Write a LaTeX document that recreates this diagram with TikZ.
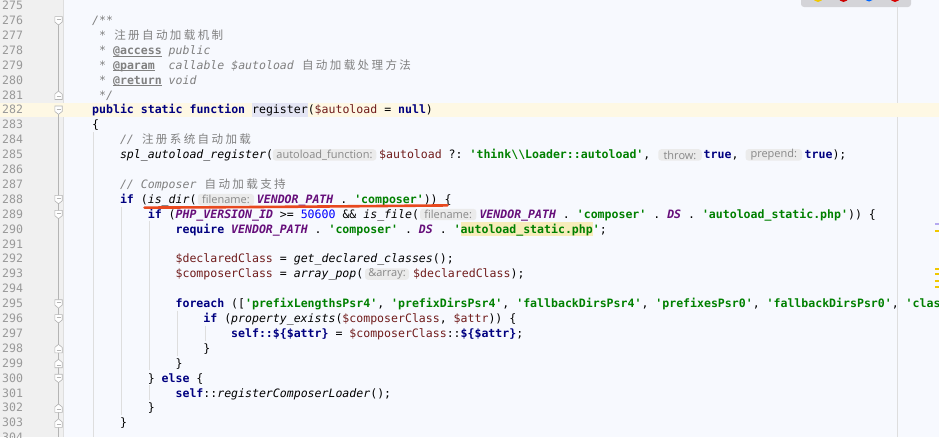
\documentclass[tikz,border=0pt]{standalone}
\usepackage{fontspec}
\setmonofont{DejaVu Sans Mono}
\newfontfamily\zhfamily{Noto Sans CJK SC}
\newfontfamily\hintfamily{Open Sans}
\usepackage{xcolor}
\usepackage{tikz}

\definecolor{codebg}{HTML}{F7F9FE}
\definecolor{gutterbg}{HTML}{F0F0F0}
\definecolor{linebg}{HTML}{FEF8E4}
\definecolor{regbg}{HTML}{E4E5F4}
\definecolor{phpbg}{HTML}{F7ECBA}
\definecolor{kwblue}{HTML}{000080}
\definecolor{strgreen}{HTML}{008000}
\definecolor{varred}{HTML}{701C1C}
\definecolor{constpurple}{HTML}{660E7A}
\definecolor{cmtgray}{HTML}{808080}
\definecolor{numblue}{HTML}{0000FF}
\definecolor{lnumgray}{HTML}{999999}
\definecolor{guidegray}{HTML}{DEDEDE}
\definecolor{foldgray}{HTML}{B4B4B4}
\definecolor{hintbg}{HTML}{EBEBEB}
\definecolor{hintgray}{HTML}{888888}
\definecolor{markred}{HTML}{E8481E}
\definecolor{popgray}{HTML}{D4D4D8}
\definecolor{stripeyellow}{HTML}{F0C800}
\definecolor{stripeviolet}{HTML}{B5AAF0}

\newcommand\codesize{\fontsize{11.55pt}{14pt}\selectfont}
\newcommand\tkw[1]{\textcolor{kwblue}{\bfseries #1}}
\newcommand\tstr[1]{\textcolor{strgreen}{\bfseries #1}}
\newcommand\tvar[1]{\textcolor{varred}{#1}}
\newcommand\tconst[1]{\textcolor{constpurple}{\bfseries\itshape #1}}
\newcommand\tfn[1]{{\itshape #1}}
\newcommand\tnum[1]{\textcolor{numblue}{#1}}
\newcommand\ttag[1]{{\upshape\bfseries\underline{\smash{#1}}}}
\makeatletter
\newcommand\zh[1]{{\zhfamily\@tfor\zh@c:=#1\do{\makebox[13.92pt]{\zh@c}}}}
\makeatother

\begin{document}
\begin{tikzpicture}[x=1pt, y=-1pt,
    code/.style={anchor=west, inner sep=0pt, text height=11pt, text depth=2.6pt, font=\codesize\ttfamily},
    cmt/.style={code, text=cmtgray, font=\codesize\ttfamily\itshape},
    lnum/.style={code, text=lnumgray},
    hint/.style={rectangle, rounded corners=3pt, fill=hintbg, text=hintgray, inner sep=0pt, minimum height=11.4pt, font=\hintfamily\fontsize{11pt}{12pt}\selectfont},
    guide/.style={draw=guidegray, line width=0.7pt},
    foldopen/.pic={\draw[fill=white, draw=foldgray, line width=0.6pt] (-3.7,-4.2) -- (3.7,-4.2) -- (3.7,1.2) -- (0,4.2) -- (-3.7,1.2) -- cycle;
                   \draw[foldgray, line width=0.6pt] (-2,-1.4) -- (2,-1.4);},
    foldclose/.pic={\draw[fill=white, draw=foldgray, line width=0.6pt] (-3.7,4.2) -- (3.7,4.2) -- (3.7,-1.2) -- (0,-4.2) -- (-3.7,-1.2) -- cycle;
                    \draw[foldgray, line width=0.6pt] (-2,1.4) -- (2,1.4);}
]
    \useasboundingbox (0,0) rectangle (939,437);
    \clip (0,0) rectangle (939,437);

    % Editor background
    \fill[codebg] (0,0) rectangle (939,437);
    \fill[gutterbg] (0,0) rectangle (63,437);
    \draw[guidegray, line width=0.5pt] (63,0) -- (63,437);
    \draw[guidegray, line width=0.6pt] (897,0) -- (897,437);

    % Caret line and highlights
    \fill[linebg] (0,102.7) rectangle (939,116.7);
    \fill[regbg] (252.1,102.7) rectangle (307.8,116.7);
    \fill[phpbg] (460.8,222) rectangle (593,236);

    % Indent guides
    \draw[guide] (93.8,132) -- (93.8,437);
    \draw[guide] (121.6,206.5) -- (121.6,415.2);
    \draw[guide] (149.4,221.4) -- (149.4,370.4);
    \draw[guide] (149.4,385.3) -- (149.4,400.2);
    \draw[guide] (177.2,310.8) -- (177.2,355.5);
    \draw[guide] (205,325.7) -- (205,340.6);

    % Gutter
    \draw[foldgray, line width=0.4pt] (58.5,20.3) -- (58.5,94.8);
    \draw[foldgray, line width=0.4pt] (58.5,109.7) -- (58.5,437);
    \foreach \n in {275,...,304}
        \node[lnum] (n\n) at (2,{109.7+(\n-282)*14.9}) {\n};
    \foreach \n in {276,282,288,289,295,296,300}
        \pic at (58.5,{110.2+(\n-282)*14.9}) {foldopen};
    \foreach \n in {281,298,299,302,303}
        \pic at (58.5,{110.2+(\n-282)*14.9}) {foldclose};

    % Doc comment
    \node[cmt] (l276) at (92,20.3) {/**};
    \node[cmt] (l277) at (99,35.2) {* \zh{注册自动加载机制}};
    \node[cmt] (l278) at (99,50.1) {* \ttag{@access} public};
    \node[cmt] (l279) at (99,65.0) {* \ttag{@param}~ callable \$autoload \zh{自动加载处理方法}};
    \node[cmt] (l280) at (99,79.9) {* \ttag{@return} void};
    \node[cmt] (l281) at (99,94.8) {*/};

    % Function
    \node[code] (l282) at (92,109.7) {\tkw{public} \tkw{static} \tkw{function} register(\tvar{\$autoload} = \tkw{null})};
    \node[code] (l283) at (92,124.6) {\{};
    \node[cmt] (l284) at (119.8,139.5) {// \zh{注册系统自动加载}};
    \node[code] (l285a) at (119.8,154.4) {\tfn{spl\_autoload\_register}(};
    \node[hint, minimum width=103.5pt] (h285a) at (324.5,154.9) {autoload\_function:};
    \node[code] (l285b) at (379,154.4) {\tvar{\$autoload} ?: \tstr{'think\textbackslash\textbackslash Loader::autoload'},};
    \node[hint, minimum width=43.5pt] (h285b) at (680,154.9) {throw:};
    \node[code] (l285c) at (703.5,154.4) {\tkw{true},};
    \node[hint, minimum width=56.5pt] (h285c) at (773.8,154.9) {prepend:};
    \node[code] (l285d) at (804.5,154.4) {\tkw{true});};

    % Composer
    \node[cmt] (l287) at (119.8,184.2) {// Composer \zh{自动加载支持}};
    \node[code] (l288a) at (119.8,199.1) {\tkw{if} (\tfn{is\_dir}(};
    \node[hint, minimum width=56.3pt] (h288) at (225.9,199.6) {filename:};
    \node[code] (l288b) at (256.7,199.1) {\tconst{VENDOR\_PATH} . \tstr{'composer'})) \{};
    \node[code] (l289a) at (147.6,214.0) {\tkw{if} (\tconst{PHP\_VERSION\_ID} >= \tnum{50600} \&\& \tfn{is\_file}(};
    \node[hint, minimum width=56.3pt] (h289) at (448.2,214.5) {filename:};
    \node[code] (l289b) at (479.3,214.0) {\tconst{VENDOR\_PATH} . \tstr{'composer'} . \tconst{DS} . \tstr{'autoload\_static.php'})) \{};
    \node[code] (l290) at (175.4,228.9) {\tkw{require} \tconst{VENDOR\_PATH} . \tstr{'composer'} . \tconst{DS} . \tstr{'autoload\_static.php'};};
    \node[code] (l292) at (175.4,258.7) {\tvar{\$declaredClass} = \tfn{get\_declared\_classes}();};
    \node[code] (l293a) at (175.4,273.6) {\tvar{\$composerClass} = \tfn{array\_pop}(};
    \node[hint, minimum width=44pt] (h293) at (387,274.1) {\&array:};
    \node[code] (l293b) at (413,273.6) {\tvar{\$declaredClass});};
    \node[code] (l295) at (175.4,303.4) {\tkw{foreach} ([\tstr{'prefixLengthsPsr4'}, \tstr{'prefixDirsPsr4'}, \tstr{'fallbackDirsPsr4'}, \tstr{'prefixesPsr0'}, \tstr{'fallbackDirsPsr0'}, \tstr{'clas}};
    \node[code] (l296) at (203.2,318.3) {\tkw{if} (\tfn{property\_exists}(\tvar{\$composerClass}, \tvar{\$attr})) \{};
    \node[code] (l297) at (231,333.2) {\tkw{self::\$\{\$attr\}} = \tvar{\$composerClass}::\tkw{\$\{\$attr\}};};
    \node[code] (l298) at (203.2,348.1) {\}};
    \node[code] (l299) at (175.4,363.0) {\}};
    \node[code] (l300) at (147.6,377.9) {\} \tkw{else} \{};
    \node[code] (l301) at (175.4,392.8) {\tkw{self}::\tfn{registerComposerLoader}();};
    \node[code] (l302) at (147.6,407.7) {\}};
    \node[code] (l303) at (119.8,422.6) {\}};

    % Red mark under is_dir
    \draw[markred, line width=2.6pt, line cap=round] (144.5,207.6) .. controls (250,207.2) and (350,206.3) .. (447.5,205.4);

    % Browser bar
    \fill[popgray, rounded corners=3pt] (801,-6) rectangle (911,7);
    \fill[stripeyellow] (818,-3) circle (5pt);
    \fill[green!60!black] (818,-3) -- (813,-3) arc (180:120:5pt) -- cycle;
    \fill[red!80!black] (843.5,-3) circle (5pt);
    \fill[blue!60!cyan] (869,-3) circle (4.5pt);
    \fill[red!85!black] (895,-3) circle (5pt);

    % Error stripe
    \fill[stripeviolet] (934.5,223.2) rectangle (939,224.8);
    \foreach \y in {230.7,269,274,281,286.7}
        \fill[stripeyellow] (934.5,\y-0.8) rectangle (939,\y+0.8);
\end{tikzpicture}
\end{document}
